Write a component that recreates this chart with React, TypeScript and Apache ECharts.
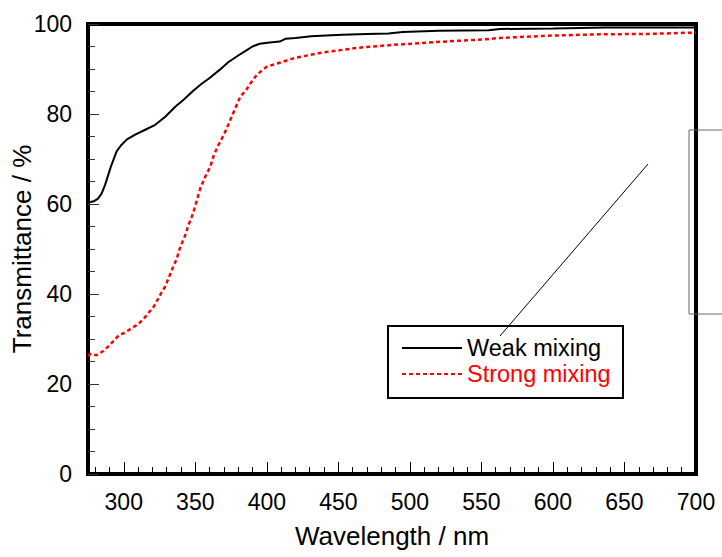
import React, { useEffect, useRef } from "react";
import * as echarts from "echarts";

const FONT = "'Liberation Sans', Arial, Helvetica, sans-serif";

const weakWavelength = [275, 279, 282, 284.5, 287, 291, 295, 298, 302, 308, 315, 322, 329, 336, 342, 348, 354, 360, 367, 373, 380, 386, 390, 395, 402, 409, 413, 420, 431, 445, 453, 470, 485, 495, 520, 555, 563, 600, 637, 700];
const weakT = [60.3, 60.6, 61.2, 62.3, 64.3, 68.3, 71.7, 73.0, 74.3, 75.4, 76.5, 77.6, 79.4, 81.6, 83.2, 85.0, 86.6, 88.0, 89.8, 91.5, 93.0, 94.2, 95.0, 95.6, 95.9, 96.1, 96.7, 96.9, 97.3, 97.5, 97.6, 97.8, 97.9, 98.2, 98.5, 98.6, 98.9, 99.0, 99.2, 99.2];

const strongWavelength = [275, 277, 281, 286, 290, 296.5, 301, 306, 310, 314, 317.5, 321, 324, 326.5, 329, 331, 333, 335, 337, 338.5, 340, 342, 343.5, 345, 347, 348.5, 350, 351.5, 353.5, 357, 360.5, 363, 366, 370, 374.5, 378, 381.5, 385.5, 388.5, 392, 395.5, 400, 409, 420, 438, 463, 486, 509, 530, 553, 563, 597, 632, 667, 700];
const strongT = [26.2, 26.7, 26.4, 27.4, 28.6, 30.8, 31.5, 32.5, 33.3, 34.5, 35.9, 37.2, 38.9, 40.4, 41.7, 43.3, 44.8, 46.4, 47.8, 49.5, 50.8, 52.3, 53.5, 55.2, 56.7, 58.0, 59.6, 61.3, 63.5, 66.1, 68.3, 70.9, 73.0, 75.4, 78.7, 81.3, 83.9, 85.3, 86.8, 88.3, 89.4, 90.5, 91.4, 92.5, 93.6, 94.7, 95.3, 95.8, 96.2, 96.6, 96.9, 97.4, 97.7, 97.8, 98.1];

const xMajorTicks = [300, 350, 400, 450, 500, 550, 600, 650, 700];
const xMinorTicks = [280, 290, 310, 320, 330, 340, 360, 370, 380, 390, 410, 420, 430, 440, 460, 470, 480, 490, 510, 520, 530, 540, 560, 570, 580, 590, 610, 620, 630, 640, 660, 670, 680, 690];

const seriesNames = ["Weak mixing", "Strong mixing"];
const xTitle = "Wavelength / nm";
const yTitle = "Transmittance / %";

export default function App() {
  const ref = useRef<HTMLDivElement>(null);
  useEffect(() => {
    if (!ref.current) return;
    const chart = echarts.init(ref.current, undefined, { renderer: "svg" });
    const weak = weakWavelength.map((w, i) => [w, weakT[i]]);
    const strong = strongWavelength.map((w, i) => [w, strongT[i]]);
    chart.setOption({
      animation: false,
      backgroundColor: "#fff",
      textStyle: { fontFamily: FONT },
      grid: {
        left: 88, right: 26, top: 24, bottom: 83,
        outerBoundsMode: "none", containLabel: false,
        show: true, borderColor: "#000", borderWidth: 4, backgroundColor: "transparent",
      },
      xAxis: [
        {
          type: "value", min: 275, max: 700, position: "bottom",
          name: xTitle, nameLocation: "middle", nameGap: 49, nameMoveOverlap: false,
          nameTextStyle: { fontSize: 26, color: "#000", fontFamily: FONT },
          axisLine: { show: false },
          splitLine: { show: false },
          axisTick: { show: true, inside: true, length: 12, lineStyle: { color: "#000", width: 1 }, customValues: xMajorTicks },
          axisLabel: { show: true, margin: 16.5, fontSize: 23, color: "#000", fontFamily: FONT, customValues: xMajorTicks, hideOverlap: false },
        },
        {
          type: "value", min: 275, max: 700, position: "bottom", offset: 0,
          axisLine: { show: false },
          splitLine: { show: false },
          axisTick: { show: true, inside: true, length: 7, lineStyle: { color: "#000", width: 1 }, customValues: xMinorTicks },
          axisLabel: { show: false },
        },
      ],
      yAxis: {
        type: "value", min: 0, max: 100, interval: 20,
        name: yTitle, nameLocation: "middle", nameGap: 53, nameRotate: 90, nameMoveOverlap: false,
        nameTextStyle: { fontSize: 26, color: "#000", fontFamily: FONT },
        axisLine: { show: false },
        splitLine: { show: false },
        axisTick: { show: true, inside: true, length: 11, lineStyle: { color: "#333", width: 1 } },
        minorTick: { show: true, splitNumber: 4, length: 7, lineStyle: { color: "#333", width: 1 } },
        axisLabel: { margin: 16, fontSize: 23, color: "#000", fontFamily: FONT },
      },
      legend: {
        left: 401, top: 336, orient: "vertical", padding: 0, itemGap: 2,
        itemWidth: 60, itemHeight: 14, selectedMode: false,
        itemStyle: { opacity: 0, borderWidth: 0 },
        textStyle: { fontSize: 23.5, color: "#000", fontFamily: FONT },
        data: [
          { name: seriesNames[0] },
          { name: seriesNames[1], textStyle: { color: "#ff0000" } },
        ],
      },
      graphic: [
        { type: "rect", shape: { x: 388, y: 326, width: 235, height: 72 }, style: { fill: "none", stroke: "#000", lineWidth: 2 }, z: 10 },
        { type: "line", shape: { x1: 500, y1: 336, x2: 648, y2: 164 }, style: { stroke: "#000", lineWidth: 1 }, z: 10 },
        { type: "rect", shape: { x: 689, y: 130, width: 60, height: 184 }, style: { fill: "none", stroke: "#666", lineWidth: 1 }, z: 10 },
      ],
      series: [
        {
          name: seriesNames[0], type: "line", xAxisIndex: 0, data: weak, showSymbol: false, symbol: "none",
          lineStyle: { color: "#000", width: 2 }, itemStyle: { color: "#000" },
        },
        {
          name: seriesNames[1], type: "line", xAxisIndex: 0, data: strong, showSymbol: false, symbol: "none",
          lineStyle: { color: "#ff0000", width: 2.5, type: [4, 3] }, itemStyle: { color: "#ff0000" },
        },
      ],
    });
    return () => chart.dispose();
  }, []);
  return <div ref={ref} style={{ position: "fixed", left: 0, top: 0, width: 722, height: 557 }} />;
}
